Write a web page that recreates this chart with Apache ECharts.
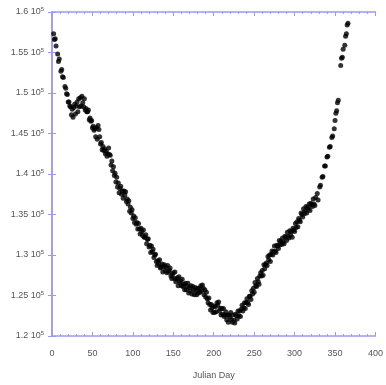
<!DOCTYPE html>
<html>
<head>
<meta charset="utf-8">
<script src="https://cdn.jsdelivr.net/npm/echarts@6/dist/echarts.min.js"></script>
<style>html,body{margin:0;padding:0;background:#fff;}#c{width:386px;height:385px;}</style>
</head>
<body>
<div id="c"></div>
<script>
// Julian day of each observation
const days = [
  2,3,4,5,7,8,9,11,12,13,14,16,17,18,19,20,21,22,23,24,
  25,26,27,28,29,30,31,32,33,34,35,36,37,38,39,40,41,42,43,44,
  45,46,47,48,49,50,51,52,53,54,55,56,57,58,59,60,61,62,63,64,
  65,66,67,68,69,70,71,72,73,74,75,76,77,78,79,80,81,82,83,84,
  85,86,87,88,89,90,91,92,93,94,95,96,97,98,99,100,101,102,103,104,
  105,106,107,108,109,110,111,112,113,114,115,116,117,118,119,120,121,122,123,124,
  125,126,127,128,129,130,131,132,133,134,135,136,137,138,139,140,141,142,143,144,
  145,146,147,148,149,150,151,152,153,154,155,156,157,158,159,160,161,162,163,164,
  165,166,167,168,169,170,171,172,173,174,175,176,177,178,179,180,181,182,183,184,
  185,186,187,188,189,190,191,192,193,194,195,196,197,198,199,200,201,202,203,204,
  205,206,207,208,209,210,211,212,213,214,215,216,217,218,219,220,221,222,223,224,
  225,226,227,228,229,230,231,232,233,234,235,236,237,238,239,240,241,242,243,244,
  245,246,247,248,249,250,251,252,253,254,255,256,257,258,259,260,261,262,263,264,
  265,266,267,268,269,270,271,272,273,274,275,276,277,278,279,280,281,282,283,284,
  285,286,287,288,289,290,291,292,293,294,295,296,297,298,299,300,301,302,303,304,
  305,306,307,308,309,310,311,312,313,314,315,316,317,318,319,320,321,322,323,324,
  325,326,328,329,331,332,334,335,337,338,340,341,343,344,346,347,349,350,351,352,
  353,354,357,358,359,360,362,363,364,365,366
];
// measured value, in thousands (x 10^3)
const valuesK = [
  157.3,156.6,156.7,155.8,154.8,153.9,154.2,152.7,152.9,152.0,151.9,150.8,150.6,149.9,149.8,148.9,148.9,148.4,148.3,147.3,
  148.0,147.0,148.2,148.6,147.4,148.4,148.9,147.7,149.3,148.3,149.4,148.4,149.6,148.8,148.3,149.3,147.9,148.1,147.7,147.7,
  147.9,146.7,146.9,146.5,146.6,145.7,145.9,145.4,145.6,144.6,145.7,144.3,146.0,145.5,144.6,143.7,143.9,143.0,143.4,142.9,
  143.1,142.5,142.8,142.2,142.5,143.2,142.4,142.3,141.1,141.6,140.4,140.9,139.8,140.1,139.0,139.6,138.4,138.9,137.7,138.2,
  138.5,137.5,137.9,137.0,137.9,137.4,137.8,136.6,136.9,136.3,136.7,135.4,135.9,135.2,135.6,134.5,134.8,134.0,134.6,133.8,
  134.0,133.2,133.9,133.2,132.6,133.3,132.9,132.4,133.1,132.2,132.2,132.5,131.4,131.9,132.0,131.0,131.2,130.3,131.1,130.4,
  130.7,129.7,130.0,130.1,129.2,128.7,129.3,128.9,129.4,128.4,128.5,128.9,127.9,128.6,128.8,128.1,128.5,127.8,128.7,127.9,
  128.1,128.4,127.4,127.1,127.6,127.8,127.1,127.9,126.7,127.0,127.2,126.2,127.3,126.6,126.8,126.2,127.0,126.1,126.4,125.7,
  126.5,125.7,126.1,126.5,125.3,126.0,125.6,126.2,125.2,126.1,125.7,125.1,126.0,125.6,125.1,125.9,125.3,125.9,125.4,126.2,
  125.6,126.3,125.9,125.1,125.7,124.8,125.4,124.6,124.1,124.7,123.9,123.2,123.9,123.5,122.9,123.7,122.9,123.6,123.0,124.1,
  123.8,124.2,123.1,123.4,122.6,123.4,122.7,123.4,122.4,122.6,123.0,122.0,122.6,121.7,122.6,122.3,122.9,122.0,121.7,122.6,
  121.9,121.6,122.7,122.5,122.1,123.1,122.5,123.1,122.4,123.3,123.8,123.1,123.5,124.1,123.4,124.1,124.6,124.1,123.9,124.9,
  124.9,124.5,125.6,125.2,125.9,125.4,126.6,126.2,126.1,127.1,126.7,126.4,127.4,127.8,127.4,128.1,127.5,128.8,128.3,128.8,
  129.0,128.7,129.8,129.4,130.0,129.2,130.1,130.5,130.0,130.4,131.1,130.5,130.3,131.2,131.1,130.8,131.8,131.3,131.7,131.3,
  132.1,131.6,131.4,132.3,132.2,131.8,132.8,132.3,132.1,133.0,132.5,132.9,132.2,133.3,133.1,132.9,133.9,133.4,134.1,133.5,
  134.5,134.3,134.1,135.2,135.0,134.7,135.7,135.1,135.4,136.0,135.2,135.9,135.7,136.3,135.5,136.4,136.2,136.0,136.9,136.3,
  136.1,137.1,137.6,136.8,138.4,138.6,139.6,139.7,141.0,141.0,142.1,142.2,143.3,143.4,144.5,144.7,145.6,146.6,147.5,147.8,
  148.8,149.1,153.4,154.3,154.4,155.4,155.9,157.0,157.3,158.4,158.6
];
const xTicks = [0, 50, 100, 150, 200, 250, 300, 350, 400];
const yTicksK = [120, 125, 130, 135, 140, 145, 150, 155, 160];

const points = days.map((d, i) => [d, valuesK[i]]);
const axisColor = '#9a9af0';
const labelColor = '#555';
const font = 'Liberation Sans, Arial, sans-serif';

const chart = echarts.init(document.getElementById('c'), null, {renderer: 'canvas'});
chart.setOption({
  animation: false,
  backgroundColor: '#fff',
  grid: {left: 52, right: 7, top: 12, bottom: 46, containLabel: false},
  xAxis: [
    {
      type: 'value', min: xTicks[0], max: xTicks[xTicks.length - 1], interval: 50,
      name: 'Julian Day', nameLocation: 'middle', nameGap: 35,
      nameTextStyle: {color: labelColor, fontSize: 9, fontFamily: font},
      axisLine: {show: true, lineStyle: {color: axisColor, width: 1.5}},
      axisTick: {show: true, inside: true, length: 4, lineStyle: {color: axisColor}},
      minorTick: {show: true, splitNumber: 5, length: 2, lineStyle: {color: axisColor}},
      splitLine: {show: false},
      axisLabel: {color: labelColor, fontSize: 9, fontFamily: font, margin: 13, showMaxLabel: true}
    },
    {
      type: 'value', position: 'top', min: xTicks[0], max: xTicks[xTicks.length - 1], interval: 50,
      axisLine: {show: true, lineStyle: {color: axisColor, width: 1.5}},
      axisTick: {show: true, inside: true, length: 4, lineStyle: {color: axisColor}},
      minorTick: {show: true, splitNumber: 5, length: 2, lineStyle: {color: axisColor}},
      splitLine: {show: false}, axisLabel: {show: false}
    }
  ],
  yAxis: [
    {
      type: 'value', min: yTicksK[0], max: yTicksK[yTicksK.length - 1], interval: 5,
      axisLine: {show: true, lineStyle: {color: axisColor, width: 1.5}},
      axisTick: {show: true, inside: true, length: 4, lineStyle: {color: axisColor}},
      splitLine: {show: false},
      axisLabel: {
        margin: 8, fontFamily: font,
        formatter: v => '{m|' + (v / 100).toString() + ' 10}{s|5}',
        rich: {
          m: {color: labelColor, fontSize: 9, fontFamily: font},
          s: {color: labelColor, fontSize: 6, fontFamily: font, verticalAlign: 'top', padding: [0, 0, 5, 0]}
        }
      }
    },
    {
      type: 'value', position: 'right', min: yTicksK[0], max: yTicksK[yTicksK.length - 1], interval: 5,
      axisLine: {show: true, lineStyle: {color: axisColor, width: 1.5}},
      axisTick: {show: true, inside: true, length: 4, lineStyle: {color: axisColor}},
      splitLine: {show: false}, axisLabel: {show: false}
    }
  ],
  series: [{
    type: 'scatter',
    xAxisIndex: 0, yAxisIndex: 0,
    data: points,
    symbol: 'circle',
    symbolSize: 5,
    itemStyle: {color: '#000'}
  }]
});
</script>
</body>
</html>
